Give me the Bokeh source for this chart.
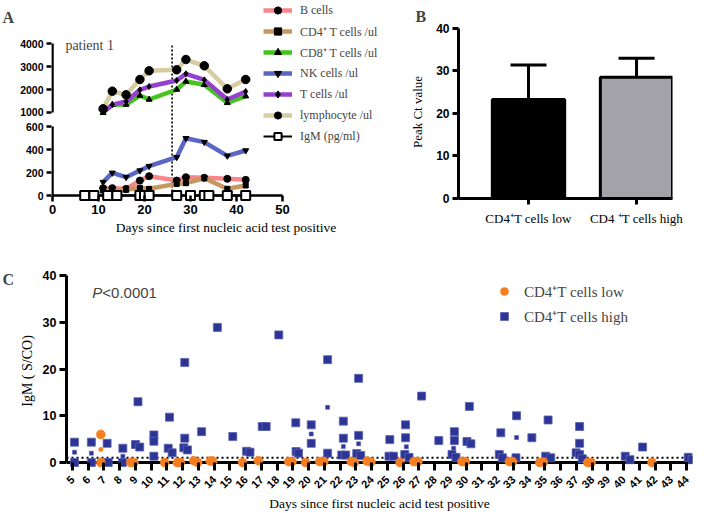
import math
from bokeh.plotting import figure
from bokeh.layouts import column, row
from bokeh.models import (Range1d, FixedTicker, Legend, LegendItem, Label,
                          Whisker, TeeHead, ColumnDataSource, Span)
from bokeh.embed import file_html
from bokeh.resources import INLINE

# ---------------- Panel A data (patient 1) ----------------
days_a = [11, 13, 16, 19, 21, 27, 29, 33, 38, 42]
b_cells = [64, 64, 58, 130, 168, 130, 159, 154, 145, 136]
cd4_cells = [43, 38, 49, 67, 58, 101, 107, 150, 58, 87]
cd8_cells = [990, 1335, 1348, 1739, 1565, 2000, 2348, 2204, 1420, 1710]
nk_cells = [116, 197, 159, 217, 255, 333, 498, 464, 345, 391]
t_cells = [1020, 1340, 1478, 1987, 2130, 2391, 2681, 2420, 1565, 1913]
lymphocytes = [1160, 1926, 1770, 2435, 2813, 2857, 3304, 3030, 2030, 2435]
igm_days = [7, 9, 12, 14, 19, 20, 21, 27, 30, 33, 34, 38, 42]
igm_values = [0, 0, 0, 0, 0, 0, 0, 0, 0, 0, 0, 0, 0]
onset_day = 26
a_bottom_ticks = [0, 200, 400, 600]
a_top_ticks = [1000, 2000, 3000, 4000]
a_x_ticks = [0, 10, 20, 30, 40, 50]

# ---------------- Panel B data ----------------
b_groups = ["CD4\u207aT cells low", "CD4 \u207aT cells high"]
b_means = [23.3, 28.5]
b_sd = [8.1, 4.5]
b_y_ticks = [0, 10, 20, 30, 40]

# ---------------- Panel C data ----------------
c_days = list(range(5, 45))
c_day_labels = [str(d) for d in c_days]
c_y_ticks = [0, 10, 20, 30, 40]
igm_cutoff = 1.0
high_x = [5.13, 5.13, 6.2, 6.2, 7.2, 7.27, 8.2, 8.17, 9.0, 9.27, 9.16, 10.17, 10.17, 10.17,
          11.16, 11.08, 11.33, 12.13, 12.13, 12.07, 12.3, 13.2, 14.2, 15.18, 16.06, 16.27,
          17.05, 17.3, 18.1, 19.18, 19.2, 19.35, 20.16, 20.16, 21.2, 21.2, 22.2, 22.2, 22.1,
          22.35, 23.17, 23.17, 23.05, 23.3, 25.15, 25.1, 25.38, 26.15, 26.15, 26.1, 26.37,
          27.17, 28.26, 29.25, 29.25, 29.1, 29.35, 30.2, 30.05, 30.3, 32.2, 32.1, 32.3, 33.2,
          33.16, 34.17, 35.2, 35.05, 35.37, 37.2, 37.2, 36.98, 37.2, 37.37, 40.1, 40.4, 41.2,
          44.1, 44.35]
high_y = [4.35, 0, 4.35, 0, 4.1, 0, 3.05, 0, 3.85, 3.3, 13.0, 5.9, 4.55, 1.35,
          9.7, 3.05, 2.07, 21.4, 5.2, 3.14, 2.7, 6.6, 28.9, 5.55, 2.4, 2.2,
          7.7, 7.7, 27.3, 8.5, 2.35, 2.0, 8.05, 4.1, 22.0, 2.0, 8.85, 5.2, 1.6,
          1.6, 18.0, 5.8, 1.9, 1.5, 4.9, 1.35, 1.35, 8.05, 5.3, 1.7, 1.1,
          14.2, 4.7, 6.6, 4.7, 1.7, 1.1, 12.0, 4.5, 4.0, 6.35, 1.7, 1.0, 10.0,
          1.0, 5.3, 9.1, 1.35, 1.0, 7.7, 4.1, 2.07, 1.7, 0.8, 1.35, 0.6, 3.3,
          1.1, 0.6]
high_small_x = [5.13, 6.2, 8.2, 20.16, 21.2, 22.2, 23.17, 26.2, 29.2, 33.2]
high_small_y = [2.2, 2.0, 1.35, 6.1, 11.8, 3.4, 4.0, 3.35, 3.06, 5.35]
low_x = [6.8, 6.8, 8.7, 8.9, 10.85, 11.65, 11.85, 12.7, 12.95, 13.75, 13.9, 15.8, 16.8,
         18.73, 18.94, 19.8, 20.7, 20.96, 22.7, 22.9, 23.7, 23.95, 25.8, 26.68, 26.93,
         29.73, 29.94, 32.74, 32.95, 34.67, 34.9, 37.72, 37.93, 41.8]
low_y = [6.0, 0, 0, 0, 0, 0, 0, 0.4, 0, 0.3, 0.3, 0, 0.4,
         0.2, 0.2, 0, 0.2, 0.2, 0.2, 0, 0.3, 0.1, 0, 0.2, 0.2,
         0.2, 0.2, 0.2, 0.2, 0, 0.1, 0, 0, 0]
low_small_x = [6.8]
low_small_y = [2.8]

# ---------------- styles ----------------
SERIF = "Liberation Serif"
SANS = "Liberation Sans"
COL_B = "#F7878B"
COL_CD4 = "#C6975F"
COL_CD8 = "#44C41D"
COL_NK = "#5A66C4"
COL_T = "#9640CF"
COL_LY = "#D6CEA3"
BLUE = "#2C3594"
ORANGE = "#F47E20"
GRAY = "#A3A2A9"


def style_axes(p, lw, tick_out, font_size):
    for ax in p.axis:
        ax.axis_line_width = lw
        ax.major_tick_line_width = lw
        ax.major_tick_in = 0
        ax.major_tick_out = tick_out
        ax.minor_tick_line_color = None
        ax.major_label_text_font = SANS
        ax.major_label_text_font_style = "bold"
        ax.major_label_text_font_size = font_size
        ax.major_label_text_color = "black"
        ax.axis_label_text_font = SERIF
        ax.axis_label_text_font_style = "normal"
        ax.axis_label_text_color = "black"
    p.grid.visible = False
    p.outline_line_color = None


def letter_strip(letter, width, height, top_gap):
    s = figure(width=width, height=height, title=None, x_range=Range1d(0, width),
               y_range=Range1d(0, height), x_axis_location=None, y_axis_location=None,
               min_border=0, output_backend="svg", toolbar_location=None, frame_align=False)
    s.outline_line_color = None
    s.grid.visible = False
    s.add_layout(Label(x=2, y=height - top_gap, text=letter, text_font=SERIF,
                       text_font_style="bold", text_font_size="16px", text_baseline="top"))
    return s


# ================= Panel A =================
ybot = Range1d(-52.17, 1695.7)
ytop = Range1d(-2869.6, 5869.6)
fa = figure(width=384, height=240, title=None, x_range=Range1d(-0.217, 75.65), y_range=ybot,
            output_backend="svg", toolbar_location=None, frame_align=False,
            min_border_left=35, min_border_right=0, min_border_top=0, min_border_bottom=39)
fa.extra_y_ranges = {"top": ytop}


def top_to_bottom(v):
    t = (v - ytop.start) / (ytop.end - ytop.start)
    return round(ybot.start + t * (ybot.end - ybot.start), 3)


style_axes(fa, 2.5, 5, "10.5px")
fa.xaxis.ticker = FixedTicker(ticks=a_x_ticks)
fa.xaxis.axis_line_color = None
fa.xaxis.major_tick_in = 6
fa.xaxis.major_tick_out = 0
fa.xaxis.major_label_text_font_size = "13px"
fa.xaxis.major_label_standoff = 3
fa.xaxis.axis_label = "Days since first nucleic acid test positive"
fa.xaxis.axis_label_text_font_size = "13.5px"
fa.xaxis.axis_label_standoff = 3
top_pos = [top_to_bottom(v) for v in a_top_ticks]
fa.yaxis.ticker = FixedTicker(ticks=a_bottom_ticks + top_pos)
fa.yaxis.major_label_overrides = {pos: str(v) for pos, v in zip(top_pos, a_top_ticks)}
fa.yaxis.axis_line_color = None
fa.yaxis.major_label_standoff = 3

# axis lines: x axis at y=0, broken y axis (two pieces)
fa.segment(x0=[a_x_ticks[0]], y0=[0], x1=[a_x_ticks[-1]], y1=[0], line_width=2.5, color="black")
fa.segment(x0=[0], y0=[a_bottom_ticks[0]], x1=[0], y1=[a_bottom_ticks[-1]], line_width=2.5, color="black")
fa.segment(x0=[0], y0=[a_top_ticks[0]], x1=[0], y1=[a_top_ticks[-1]], line_width=2.5, color="black",
           y_range_name="top")

# vertical dotted line
fa.segment(x0=[onset_day], y0=[0], x1=[onset_day], y1=[top_to_bottom(a_top_ticks[-1])],
           line_dash="2 2", line_width=1.6, color="black")

LW = 4.5
rb_l = fa.line(days_a, b_cells, color=COL_B, line_width=LW)
rb_s = fa.scatter(days_a, b_cells, marker="circle", size=7, color="black")
rc4_l = fa.line(days_a, cd4_cells, color=COL_CD4, line_width=LW)
rc4_s = fa.scatter(days_a, cd4_cells, marker="square", size=5, color="black")
rc8_l = fa.line(days_a, cd8_cells, color=COL_CD8, line_width=LW, y_range_name="top")
rc8_s = fa.scatter(days_a, cd8_cells, marker="triangle", size=6, color="black", y_range_name="top")
rnk_l = fa.line(days_a, nk_cells, color=COL_NK, line_width=LW)
rnk_s = fa.scatter(days_a, nk_cells, marker="inverted_triangle", size=6, color="black")
rt_l = fa.line(days_a, t_cells, color=COL_T, line_width=LW, y_range_name="top")
rt_s = fa.scatter(days_a, t_cells, marker="diamond", size=6, color="black", y_range_name="top")
rly_l = fa.line(days_a, lymphocytes, color=COL_LY, line_width=LW, y_range_name="top")
rly_s = fa.scatter(days_a, lymphocytes, marker="circle", size=8.5, color="black", y_range_name="top")
rig_l = fa.line(igm_days, igm_values, color="black", line_width=2)
rig_s = fa.scatter(igm_days, igm_values, marker="square", size=9, fill_color="white",
                   line_color="black", line_width=2)

leg_a = Legend(items=[
    LegendItem(label="B cells", renderers=[rb_l, rb_s]),
    LegendItem(label="CD4\u207a T cells /ul", renderers=[rc4_l, rc4_s]),
    LegendItem(label="CD8\u207a T cells /ul", renderers=[rc8_l, rc8_s]),
    LegendItem(label="NK cells /ul", renderers=[rnk_l, rnk_s]),
    LegendItem(label="T cells /ul", renderers=[rt_l, rt_s]),
    LegendItem(label="lymphocyte /ul", renderers=[rly_l, rly_s]),
    LegendItem(label="IgM (pg/ml)", renderers=[rig_l, rig_s]),
], location=(212, 56), glyph_width=29, glyph_height=18, label_height=18, spacing=3,
    label_standoff=8, padding=0, margin=0, border_line_color=None, background_fill_alpha=0,
    label_text_font=SERIF, label_text_font_size="12px")
fa.add_layout(leg_a)

fa.add_layout(Label(x=2.8, y=3913, y_range_name="top", text="patient 1", text_font=SERIF,
                    text_font_size="14px", text_baseline="middle"))

# ================= Panel B =================
fb = figure(width=309, height=240, x_range=Range1d(0.352, 2.333), y_range=Range1d(0, 40.7),
            output_backend="svg", toolbar_location=None, frame_align=False,
            min_border_left=58, min_border_right=37, min_border_top=25, min_border_bottom=42)
style_axes(fb, 3, 6, "12px")
src_b = ColumnDataSource(dict(x=[1, 2], mean=b_means,
                              upper=[m + s for m, s in zip(b_means, b_sd)],
                              color=["black", GRAY]))
fb.vbar(x="x", top="mean", width=0.67, fill_color="color", line_color="black", line_width=3,
        source=src_b)
fb.add_layout(Whisker(source=src_b, base="x", lower="mean", upper="upper", line_width=3,
                      upper_head=TeeHead(size=36, line_width=3), lower_head=None))
fb.yaxis.ticker = FixedTicker(ticks=b_y_ticks)
fb.yaxis.bounds = (b_y_ticks[0], b_y_ticks[-1])
fb.yaxis.axis_label = "Peak Ct value"
fb.yaxis.axis_label_text_font_size = "13px"
fb.yaxis.axis_label_standoff = 8
fb.yaxis.major_label_standoff = 3
fb.xaxis.ticker = FixedTicker(ticks=[1, 2])
fb.xaxis.major_label_overrides = {1: b_groups[0], 2: b_groups[1]}
fb.xaxis.major_label_text_font = SERIF
fb.xaxis.major_label_text_font_style = "normal"
fb.xaxis.major_label_text_font_size = "13px"
fb.xaxis.major_label_standoff = 6
fb.title.text = "B"
fb.title.align = "left"
fb.title.offset = -43
fb.title.standoff = 2
fb.title.text_font = SERIF
fb.title.text_font_style = "bold"
fb.title.text_font_size = "16px"

# ================= Panel C =================
c_ystart = -1.711
fc = figure(width=693, height=273, title=None, x_range=Range1d(4.621, 44.37),
            y_range=Range1d(c_ystart, 40.86), output_backend="svg", toolbar_location=None,
            frame_align=False,
            min_border_left=46, min_border_right=17, min_border_top=31, min_border_bottom=43)
style_axes(fc, 3, 7, "12.5px")
fc.xaxis.ticker = FixedTicker(ticks=c_days)
fc.xaxis.major_label_overrides = {d: s for d, s in zip(c_days, c_day_labels)}
fc.xaxis.major_label_orientation = math.pi / 4
fc.xaxis.major_label_text_font_size = "11px"
fc.xaxis.major_label_standoff = 7
fc.xaxis.axis_line_color = None
fc.xaxis.major_tick_in = 8
fc.xaxis.major_tick_out = 0
fc.xaxis.axis_label = "Days since first nucleic acid test positive"
fc.xaxis.axis_label_text_font_size = "13.5px"
fc.xaxis.axis_label_standoff = 1
fc.yaxis.ticker = FixedTicker(ticks=c_y_ticks)
fc.yaxis.bounds = (c_y_ticks[0], c_y_ticks[-1])
fc.yaxis.axis_label = "IgM ( S/CO)"
fc.yaxis.axis_label_text_font_size = "14px"
fc.yaxis.axis_label_standoff = 5
fc.yaxis.major_label_standoff = 3

fc.add_layout(Span(location=0, dimension="width", line_width=3, line_color="black",
                   level="underlay"))
fc.add_layout(Span(location=igm_cutoff, dimension="width", line_dash="2 3", line_width=2,
                   line_color="black", level="underlay"))
r_high = fc.scatter(high_x, high_y, marker="square", size=8, fill_color=BLUE,
                    line_color="#5A62B4", line_width=0.8)
fc.scatter(high_small_x, high_small_y, marker="square", size=4, fill_color=BLUE,
           line_color="#5A62B4", line_width=0.6)
r_low = fc.scatter(low_x, low_y, marker="circle", size=9, fill_color=ORANGE, line_color=ORANGE,
                   line_width=0.5)
fc.scatter(low_small_x, low_small_y, marker="circle", size=4, fill_color=ORANGE, line_color=ORANGE)

leg_c = Legend(items=[LegendItem(label="CD4\u207aT cells low", renderers=[r_low]),
                      LegendItem(label="CD4\u207aT cells high", renderers=[r_high])],
               location=(428, 144), glyph_width=20, glyph_height=20, label_height=20, spacing=5,
               label_standoff=10, padding=0, margin=0, border_line_color=None,
               background_fill_alpha=0, label_text_font=SERIF, label_text_font_size="15px")
fc.add_layout(leg_c)

fc.add_layout(Label(x=6.26, y=36.4, text="P", text_font=SANS, text_font_style="italic",
                    text_font_size="15px", text_baseline="middle"))
fc.add_layout(Label(x=6.26, y=36.4, x_offset=10, text="<0.0001", text_font=SANS,
                    text_font_size="15px", text_baseline="middle"))

strip_a = letter_strip("A", 16, 240, 8)
strip_c = letter_strip("C", 16, 273, 30)

layout = column(row(strip_a, fa, fb), row(strip_c, fc))
open("out.html", "w").write(file_html(layout, INLINE))
